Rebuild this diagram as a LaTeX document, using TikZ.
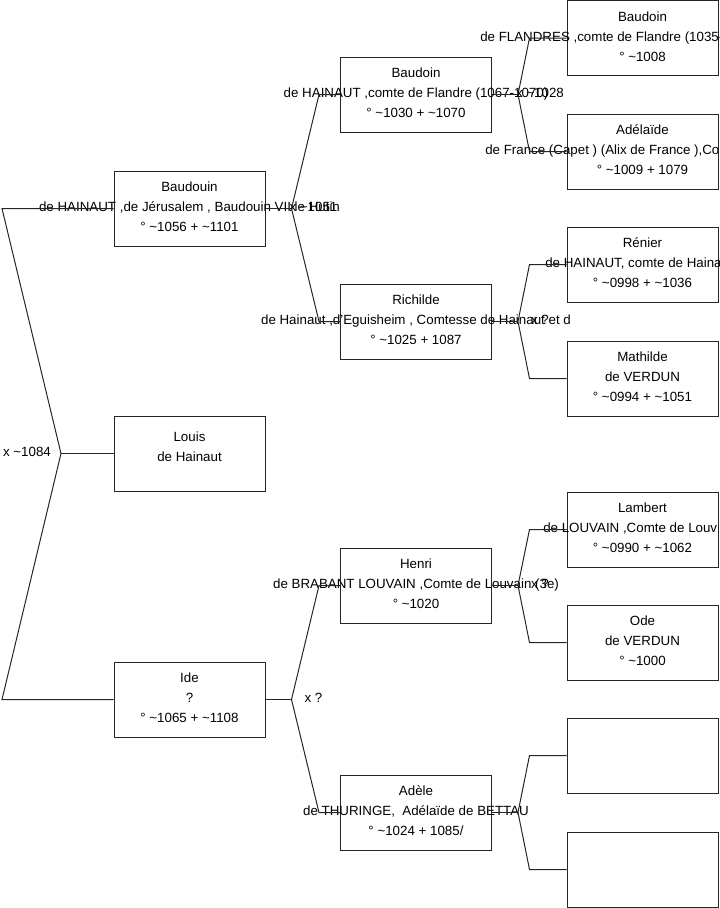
\documentclass[tikz,border=0pt]{standalone}
\usepackage{fontspec}
\setmainfont{Liberation Sans}
\usetikzlibrary{calc, math}

\newcommand{\ca}{\textasciitilde}
% three text lines of a person box; optional arg = start of line 2 (0 = centred)
\newcommand{\fiche}[5][0]{%
  \node[txt] (#2-a) at ($(#2)+(0,-17)$) {#3};
  \ifdim #1pt=0pt
    \node[txt] (#2-b) at ($(#2)+(0,3)$) {#4};
  \else
    \node[txt,anchor=base west] (#2-b) at ($(#2)+(#1,3)$) {#4};
  \fi
  \node[txt] (#2-c) at ($(#2)+(0,23)$) {#5};
}

\begin{document}
\begin{tikzpicture}[x=0.75pt,y=-0.75pt,
  boite/.style={draw=black!85, line width=0.75pt, minimum width=113.25pt, minimum height=56.25pt, inner sep=0pt},
  txt/.style={anchor=base, inner sep=0pt, font=\fontsize{10}{11}\selectfont},
  lien/.style={draw=black!85, line width=0.75pt}]
\tikzmath{
\colA=189.5;
\colB=416;
\colC=642.5;
\dv=26;
\dA=21;
\dB=37;
}
\useasboundingbox (0,0) rectangle (719,908);

% generation 1
\node[boite] (baudouin) at (\colA,208.5) {};
\node[boite] (louis) at (\colA,453.5) {};
\node[boite] (ide) at (\colA,699.5) {};
% generation 2
\node[boite] (baudoin) at (\colB,94.5) {};
\node[boite] (richilde) at (\colB,321.5) {};
\node[boite] (henri) at (\colB,585.5) {};
\node[boite] (adele) at (\colB,812.5) {};
% generation 3
\node[boite] (baudoinF) at (\colC,38) {};
\node[boite] (adelaide) at (\colC,151.5) {};
\node[boite] (renier) at (\colC,264.5) {};
\node[boite] (mathilde) at (\colC,378.5) {};
\node[boite] (lambert) at (\colC,529.5) {};
\node[boite] (ode) at (\colC,642.5) {};
\node[boite] (inconnu1) at (\colC,755.5) {};
\node[boite] (inconnu2) at (\colC,869.5) {};

% texts
\fiche{baudouin}{Baudouin}{de HAINAUT ,de Jérusalem , Baudouin VII le Hutin}{° \ca1056 + \ca1101}
\node[txt] (louis-a) at ($(louis)+(0,-12)$) {Louis};
\node[txt] (louis-b) at ($(louis)+(0,8)$) {de Hainaut};
\fiche{ide}{Ide}{?}{° \ca1065 + \ca1108}
\fiche{baudoin}{Baudoin}{de HAINAUT ,comte de Flandre (1067-1070)}{° \ca1030 + \ca1070}
\fiche{richilde}{Richilde}{de Hainaut ,d'Eguisheim , Comtesse de Hainaut et d}{° \ca1025 + 1087}
\fiche{henri}{Henri}{de BRABANT LOUVAIN ,Comte de Louvain (3e)}{° \ca1020}
\fiche{adele}{Adèle}{de THURINGE,\ \ Adélaïde de BETTAU}{° \ca1024 + 1085/}
\fiche[-162.5]{baudoinF}{Baudoin}{de FLANDRES ,comte de Flandre (1035-}{° \ca1008}
\fiche[-157.5]{adelaide}{Adélaïde}{de France (Capet ) (Alix de France ),Co}{° \ca1009 + 1079}
\fiche[-97.5]{renier}{Rénier}{de HAINAUT, comte de Haina}{° \ca0998 + \ca1036}
\fiche{mathilde}{Mathilde}{de VERDUN}{° \ca0994 + \ca1051}
\fiche[-99.5]{lambert}{Lambert}{de LOUVAIN ,Comte de Louv}{° \ca0990 + \ca1062}
\fiche{ode}{Ode}{de VERDUN}{° \ca1000}

% gen 1 -> gen 0
\coordinate (racine) at (61,453.5);
\coordinate (r-haut) at (2,208.5);
\coordinate (r-bas) at (2,699.5);
\draw[lien] (baudouin.west) -- (r-haut) -- (racine) -- (r-bas) -- (ide.west);
\draw[lien] (racine) -- (louis.west);
\node[txt] (x-racine) at ($(racine)+(-34,3)$) {x \ca1084};

% gen 1 -> gen 2
\coordinate (v-baudouin) at ($(baudouin.east)+(\dv,0)$);
\draw[lien] (baudouin.east) -- (v-baudouin);
\draw[lien] (baudoin.west) -- ++(-\dA,0) -- (v-baudouin) -- ($(richilde.west)+(-\dA,0)$) -- (richilde.west);
\node[txt] (x-baudouin) at ($(v-baudouin)+(22,3)$) {x \ca1051};

\coordinate (v-ide) at ($(ide.east)+(\dv,0)$);
\draw[lien] (ide.east) -- (v-ide);
\draw[lien] (henri.west) -- ++(-\dA,0) -- (v-ide) -- ($(adele.west)+(-\dA,0)$) -- (adele.west);
\node[txt] (x-ide) at ($(v-ide)+(22,3)$) {x ?};

% gen 2 -> gen 3
\coordinate (v-baudoin) at ($(baudoin.east)+(\dv,0)$);
\draw[lien] (baudoin.east) -- (v-baudoin);
\draw[lien] (baudoinF.west) -- ++(-\dB,0) -- (v-baudoin) -- ($(adelaide.west)+(-\dB,0)$) -- (adelaide.west);
\node[txt] (x-baudoin) at ($(v-baudoin)+(22,3)$) {x \ca1028};

\coordinate (v-richilde) at ($(richilde.east)+(\dv,0)$);
\draw[lien] (richilde.east) -- (v-richilde);
\draw[lien] (renier.west) -- ++(-\dB,0) -- (v-richilde) -- ($(mathilde.west)+(-\dB,0)$) -- (mathilde.west);
\node[txt] (x-richilde) at ($(v-richilde)+(22,3)$) {x ?};

\coordinate (v-henri) at ($(henri.east)+(\dv,0)$);
\draw[lien] (henri.east) -- (v-henri);
\draw[lien] (lambert.west) -- ++(-\dB,0) -- (v-henri) -- ($(ode.west)+(-\dB,0)$) -- (ode.west);
\node[txt] (x-henri) at ($(v-henri)+(22,3)$) {x ?};

\coordinate (v-adele) at ($(adele.east)+(\dv,0)$);
\draw[lien] (adele.east) -- (v-adele);
\draw[lien] (inconnu1.west) -- ++(-\dB,0) -- (v-adele) -- ($(inconnu2.west)+(-\dB,0)$) -- (inconnu2.west);
\end{tikzpicture}
\end{document}
